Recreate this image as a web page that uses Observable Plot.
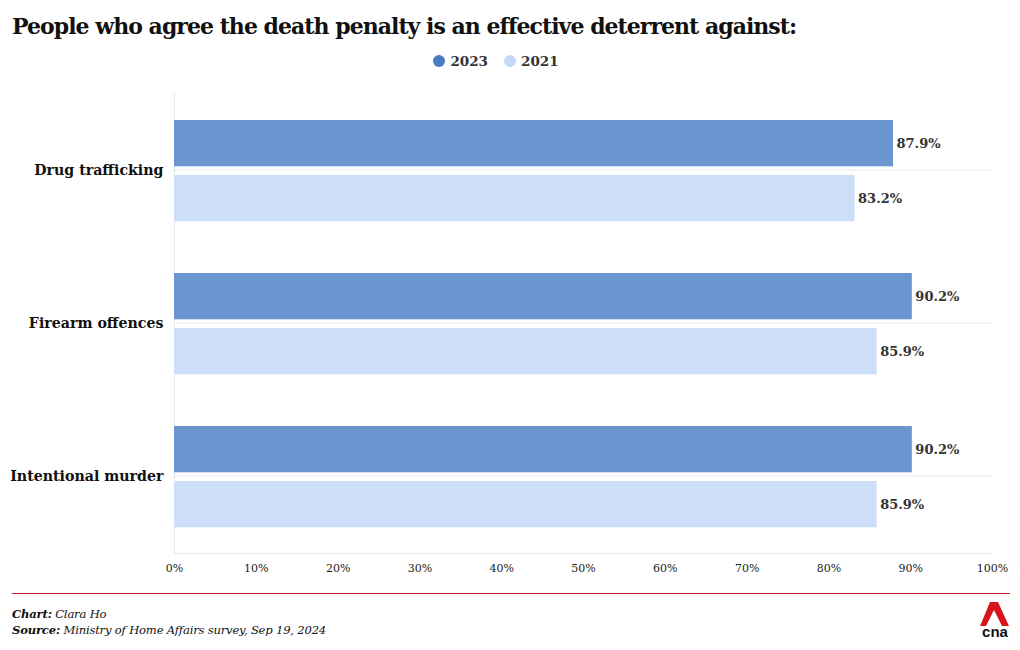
<!DOCTYPE html>
<html>
<head>
<meta charset="utf-8">
<script src="https://cdn.jsdelivr.net/npm/d3@7"></script>
<script src="https://cdn.jsdelivr.net/npm/@observablehq/plot@0.6"></script>
<style>
  html, body { margin: 0; padding: 0; background: #fff; }
  body { width: 1020px; height: 650px; position: relative; overflow: hidden; font-family: "DejaVu Serif", serif; color: #111; }
  #title { position: absolute; left: 12px; top: 13px; font-family: "DejaVu Serif", serif; font-weight: bold; font-size: 22px; letter-spacing: -0.97px; white-space: nowrap; color: #111; }
  #legend { position: absolute; top: 53px; left: -14px; width: 1020px; text-align: center; font-size: 13.5px; color: #333; font-weight: bold; }
  #legend span.item { margin: 0 8px; display: inline-flex; align-items: center; }
  #legend span.dot { display: inline-block; width: 12px; height: 12px; border-radius: 50%; margin-right: 5px; }
  #chart { position: absolute; left: 0; top: 80px; }
  #rule { position: absolute; left: 12px; top: 593px; width: 998px; height: 1px; background: #c8232c; }
  #credits { position: absolute; left: 12px; top: 606px; font-size: 11.6px; line-height: 16px; font-style: italic; color: #111; letter-spacing: -0.2px; }
  #logo { position: absolute; left: 978px; top: 600px; }
</style>
</head>
<body>
<div id="title">People who agree the death penalty is an effective deterrent against:</div>
<div id="legend"></div>
<div id="chart"></div>
<div id="rule"></div>
<div id="credits"><b>Chart:</b> Clara Ho<br><b>Source:</b> Ministry of Home Affairs survey, Sep 19, 2024</div>
<svg id="logo" width="36" height="40" viewBox="0 0 36 40">
  <polygon points="12,2 20,2 31,26 24,26 16,10 8,26 2,26" fill="#d7141a"/>
  <text x="17" y="37" text-anchor="middle" font-family="Liberation Sans, Arial, sans-serif" font-weight="bold" font-size="15" fill="#111">cna</text>
</svg>
<script>
const categories = ["Drug trafficking", "Firearm offences", "Intentional murder"];
const years = ["2023", "2021"];
const values2023 = [87.9, 90.2, 90.2];
const values2021 = [83.2, 85.9, 85.9];
const xTicks = [0, 10, 20, 30, 40, 50, 60, 70, 80, 90, 100];
const barColors = {"2023": "#6a95ce", "2021": "#cddff8"};
const dotColors = {"2023": "#4a7cc4", "2021": "#c3d9f6"};

const legend = document.getElementById("legend");
years.forEach(y => {
  const s = document.createElement("span");
  s.className = "item";
  s.innerHTML = `<span class="dot" style="background:${dotColors[y]}"></span>${y}`;
  legend.appendChild(s);
});

const d2023 = categories.map((c, i) => ({category: c, year: "2023", value: values2023[i]}));
const d2021 = categories.map((c, i) => ({category: c, year: "2021", value: values2021[i]}));

const chart = Plot.plot({
  width: 1020,
  height: 500,
  marginTop: 12,
  marginBottom: 27,
  marginLeft: 174,
  marginRight: 28,
  style: {fontFamily: "DejaVu Serif, serif", background: "transparent"},
  x: {domain: [0, 100], ticks: xTicks, tickFormat: d => d + "%", label: null},
  y: {domain: categories, padding: 0, label: null},
  marks: [
    Plot.ruleY(categories, {y: d => d, x1: 0, x2: 100, stroke: "#e8e8e8", strokeWidth: 1}),
    Plot.ruleX([0], {stroke: "#e8e8e8"}),
    Plot.frame({anchor: "bottom", stroke: "#e8e8e8"}),
    Plot.barX(d2023, {y: "category", x: "value", fill: barColors["2023"], insetTop: 27, insetBottom: 79.7}),
    Plot.barX(d2021, {y: "category", x: "value", fill: barColors["2021"], insetTop: 82, insetBottom: 24.7}),
    Plot.text(d2023, {y: "category", x: "value", text: d => d.value.toFixed(1) + "%", dy: -26.5, dx: 3, textAnchor: "start", fontSize: 13, fontWeight: "bold", fill: "#333"}),
    Plot.text(d2021, {y: "category", x: "value", text: d => d.value.toFixed(1) + "%", dy: 28.5, dx: 3, textAnchor: "start", fontSize: 13, fontWeight: "bold", fill: "#333"}),
    Plot.axisX({ticks: xTicks, tickFormat: d => d + "%", tickSize: 0, tickPadding: 11, fontSize: 11, fill: "#222", label: null}),
    Plot.axisY({tickSize: 0, tickPadding: 11, fontSize: 14.2, fontWeight: "bold", fill: "#111", label: null})
  ]
});
document.getElementById("chart").appendChild(chart);
</script>
</body>
</html>
